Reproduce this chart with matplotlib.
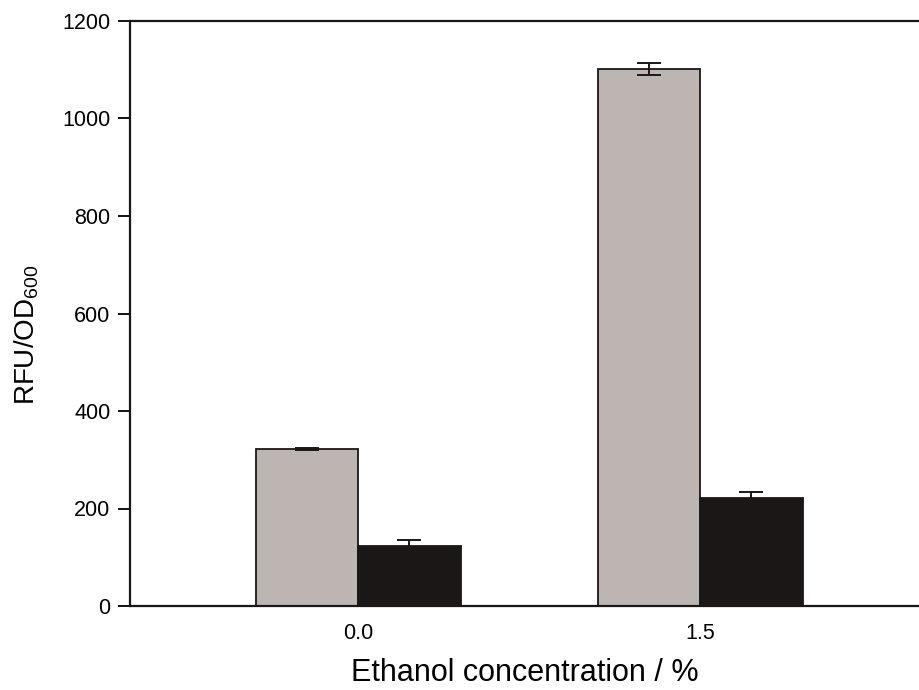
import numpy as np
import matplotlib
matplotlib.use('Agg')
import matplotlib.pyplot as plt

# data
concentrations = ['0.0', '1.5']
gray_values = [322, 1102]
gray_errors = [3, 12]
black_values = [124, 222]
black_errors = [11, 12]

plt.rcParams['font.family'] = ['Liberation Sans', 'DejaVu Sans']
plt.rcParams['mathtext.fontset'] = 'custom'
plt.rcParams['mathtext.rm'] = 'Liberation Sans'

fig = plt.figure(figsize=(9.19, 6.9), dpi=100)
ax = fig.add_axes([130 / 919, 1 - 606 / 690, 1 - 130 / 919, (606 - 21) / 690])

x = np.arange(len(concentrations))
width = 0.3
err_kw = dict(ecolor='#1a1716', elinewidth=1.4, capsize=8.5, capthick=1.4)

ax.bar(x - width / 2, gray_values, width, color='#bdb5b2', edgecolor='#1a1716',
       linewidth=1.3, yerr=gray_errors, error_kw=err_kw, zorder=2)
ax.bar(x + width / 2, black_values, width, color='#1a1716', edgecolor='#1a1716',
       linewidth=1.3, yerr=black_errors, error_kw=err_kw, zorder=2)

ax.set_xlim(-0.667, 1.64)
ax.set_ylim(0, 1200)
ax.set_yticks([0, 200, 400, 600, 800, 1000, 1200])
ax.set_xticks(x)
ax.set_xticklabels(concentrations)

ax.spines['right'].set_visible(False)
for side in ['left', 'top', 'bottom']:
    ax.spines[side].set_linewidth(1.6)
    ax.spines[side].set_color('#1a1716')

ax.tick_params(axis='y', direction='out', length=8.5, width=1.3, labelsize=15.5, pad=5.5)
ax.tick_params(axis='x', length=0, labelsize=15.5, pad=12)

ax.set_xlabel('Ethanol concentration / %', fontsize=22, labelpad=10)
ax.set_ylabel(r'RFU/OD$_{600}$', fontsize=20, labelpad=15)
ax.yaxis.label.set_y(0.463)

fig.savefig('out.png', dpi=100)
